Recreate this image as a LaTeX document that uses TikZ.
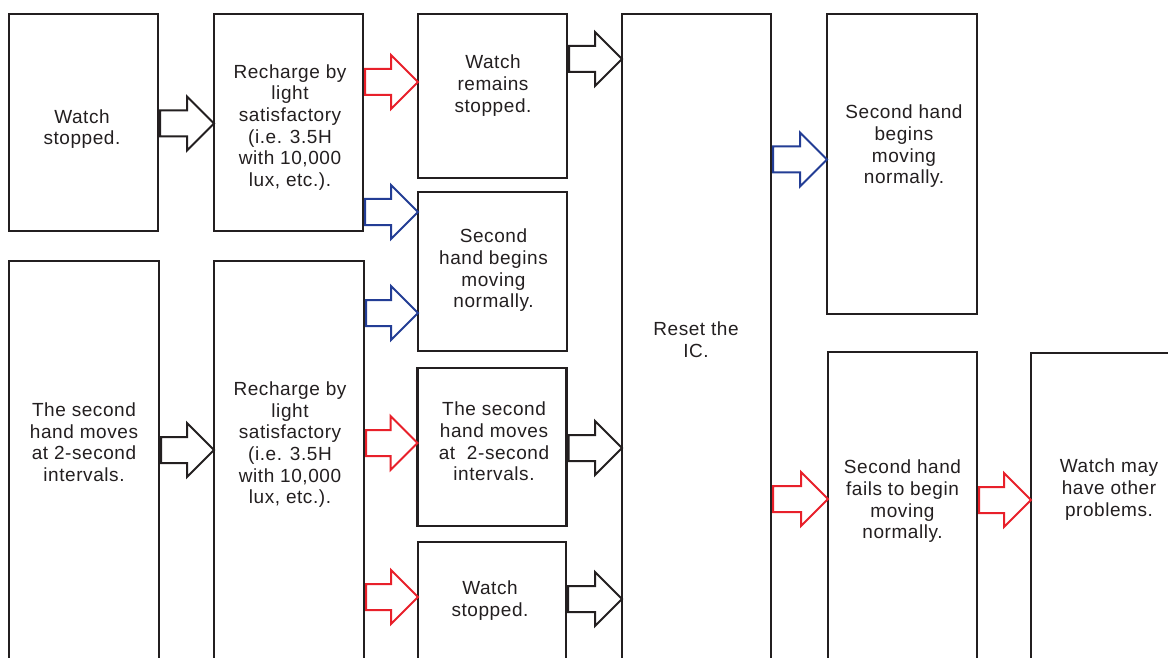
\documentclass[tikz,border=0pt]{standalone}
\usepackage{fontspec}
\setmainfont{Liberation Sans}[LetterSpace=3]
\usetikzlibrary{calc}
\definecolor{ink}{HTML}{231F20}
\definecolor{ared}{HTML}{E8202A}
\definecolor{ablue}{HTML}{233D95}
\newcommand\blockarr[4]{%
  \draw[#1] let \p1=(#2.east), \p2=(#3.west), \p3=(0,#4) in
    (\x1+2pt,\y3+13pt) -- (\x2-27pt,\y3+13pt) -- (\x2-27pt,\y3+27pt) -- (\x2,\y3)
    -- (\x2-27pt,\y3-27pt) -- (\x2-27pt,\y3-13pt) -- (\x1+2pt,\y3-13pt) -- cycle;}
\begin{document}
\begin{tikzpicture}[x=1pt,y=-1pt,
  box/.style={draw=ink, line width=2.5pt, inner sep=0pt, outer sep=0pt, rectangle},
  txt/.style={anchor=north, align=center, inner sep=0pt, text=ink,
              font=\fontsize{19}{21.6}\selectfont},
  blkarr/.style={draw=ink, line width=2pt},
  redarr/.style={draw=ared, line width=2pt},
  bluearr/.style={draw=ablue, line width=2pt}]
\useasboundingbox (0,0) rectangle (1168,658);
\fill[white] (0,0) rectangle (1168,658);
\clip (0,0) rectangle (1168,658);

% boxes
\node[box, minimum width=149pt, minimum height=217pt] (A1) at (83.5,122.5) {};
\node[box, minimum width=149pt, minimum height=217pt] (B1) at (288.5,122.5) {};
\node[box, minimum width=149pt, minimum height=164pt] (C1) at (492.5,96) {};
\node[box, minimum width=149pt, minimum height=159pt] (C2) at (492.5,271.5) {};
\node[box, minimum width=149pt, minimum height=158pt] (C3) at (492,447) {};
\node[box, minimum width=148pt, minimum height=128pt] (C4) at (492,606) {};
\node[box, minimum width=150pt, minimum height=409pt] (A2) at (84,465.5) {};
\node[box, minimum width=150pt, minimum height=409pt] (B2) at (289,465.5) {};
\node[box, minimum width=149pt, minimum height=656pt] (D) at (696.5,342) {};
\node[box, minimum width=150pt, minimum height=300pt] (E1) at (902,164) {};
\node[box, minimum width=149pt, minimum height=318pt] (E2) at (902.5,511) {};
\node[box, minimum width=159pt, minimum height=317pt] (F) at (1110.5,511.5) {};

% texts
\node[txt] (tA1) at (82,109.3) {Watch\\stopped.};
\node[txt] (tB1) at (290,64.3) {Recharge by\\light\\satisfactory\\(i.e. 3.5H\\with 10,000\\lux, etc.).};
\node[txt] (tC1) at (493,55) {Watch\\remains\\stopped.};
\node[txt] (tC2) at (493.5,229) {Second\\hand begins\\moving\\normally.};
\node[txt] (tD) at (696,322) {Reset the\\IC.};
\node[txt] (tE1) at (904,105) {Second hand\\begins\\moving\\normally.};
\node[txt] (tA2) at (84,402.7) {The second\\hand moves\\at 2-second\\intervals.};
\node[txt] (tB2) at (290,381.7) {Recharge by\\light\\satisfactory\\(i.e. 3.5H\\with 10,000\\lux, etc.).};
\node[txt] (tC3) at (494,402) {The second\\hand moves\\at~ 2-second\\intervals.};
\node[txt] (tC4) at (490,581) {Watch\\stopped.};
\node[txt] (tE2) at (902.5,460) {Second hand\\fails to begin\\moving\\normally.};
\node[txt] (tF) at (1109,459) {Watch may\\have other\\problems.};

% block arrows
\blockarr{blkarr}{A1}{B1}{123.5}
\blockarr{redarr}{B1}{C1}{82}
\blockarr{bluearr}{B1}{C2}{212}
\blockarr{blkarr}{C1}{D}{59}
\blockarr{blkarr}{A2}{B2}{450}
\blockarr{bluearr}{B2}{C2}{313}
\blockarr{redarr}{B2}{C3}{443}
\blockarr{redarr}{B2}{C4}{597}
\blockarr{blkarr}{C3}{D}{448}
\blockarr{blkarr}{C4}{D}{599}
\blockarr{bluearr}{D}{E1}{159.5}
\blockarr{redarr}{D}{E2}{499}
\blockarr{redarr}{E2}{F}{500}
\end{tikzpicture}
\end{document}
